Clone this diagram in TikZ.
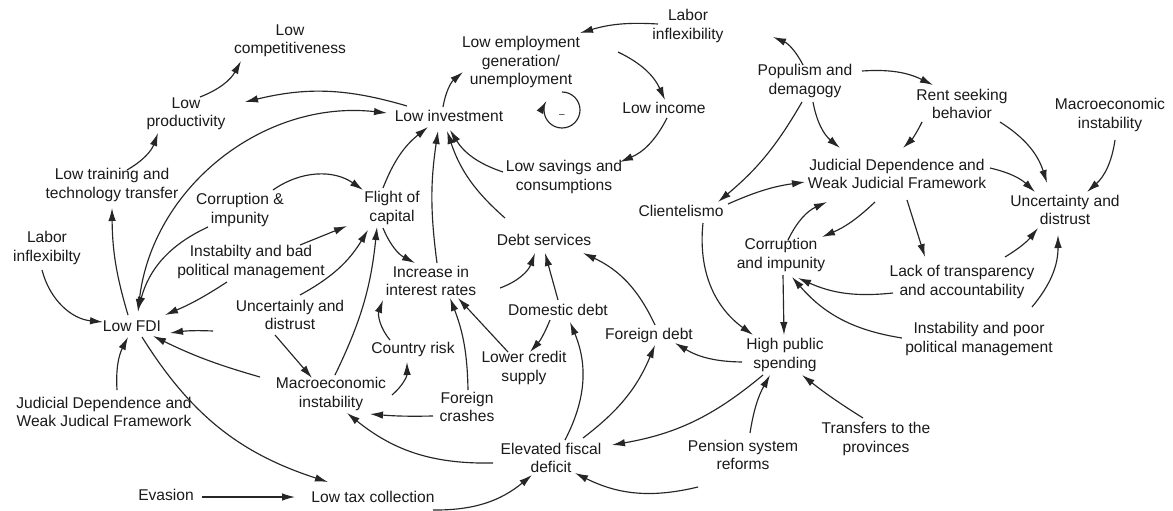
\documentclass[tikz,border=0pt]{standalone}
\usepackage{fontspec}
\setmainfont{Liberation Sans}
\usetikzlibrary{arrows.meta}
\definecolor{ln}{HTML}{262626}
\definecolor{txt}{HTML}{1A1A1A}
\begin{document}
\begin{tikzpicture}[x=1pt,y=1pt,
  lbl/.style={align=center, font=\fontsize{15.6}{18.5}\selectfont, text=txt, inner sep=0pt},
  link/.style={-{Latex[length=13pt,width=7.5pt]}, line width=1.15pt, draw=ln},
  both/.style={{Latex[length=13pt,width=7.5pt]}-{Latex[length=13pt,width=7.5pt]}, line width=1.15pt, draw=ln}]
\fill[white] (0,0) rectangle (1173,-511);
\useasboundingbox (0,0) rectangle (1173,-511);

% nodes
\node[lbl] (comp) at (290,-41) {Low\\competitiveness};
\node[lbl] (prod) at (186,-114) {Low\\productivity};
\node[lbl] (train) at (112,-185) {Low training and\\technology transfer};
\node[lbl] (laborL) at (47,-248) {Labor\\inflexibilty};
\node[lbl] (fdi) at (132,-326) {Low FDI};
\node[lbl] (judL) at (104,-412) {Judicial Dependence and\\Weak Judical Framework};
\node[lbl] (evasion) at (166,-495) {Evasion};
\node[lbl] (tax) at (373,-497) {Low tax collection};
\node[lbl] (corrL) at (240,-210) {Corruption \&\\impunity};
\node[lbl] (instL) at (251,-262) {Instabilty and bad\\political management};
\node[lbl] (uncL) at (290,-315) {Uncertainly and\\distrust};
\node[lbl] (macroM) at (331,-394) {Macroeconomic\\instability};
\node[lbl] (flight) at (392,-208) {Flight of\\capital};
\node[lbl] (inv) at (449,-116) {Low investment};
\node[lbl] (rates) at (431,-281) {Increase in\\interest rates};
\node[lbl] (crisk) at (413,-349) {Country risk};
\node[lbl] (crash) at (467,-407) {Foreign\\crashes};
\node[lbl] (ddebt) at (558,-310) {Domestic debt};
\node[lbl] (credit) at (524,-368) {Lower credit\\supply};
\node[lbl] (dserv) at (544,-240) {Debt services};
\node[lbl] (fdebt) at (649,-335) {Foreign debt};
\node[lbl] (deficit) at (551,-458) {Elevated fiscal\\deficit};
\node[lbl] (savings) at (564,-177) {Low savings and\\consumptions};
\node[lbl] (employ) at (521,-62) {Low employment\\generation/\\unemployment};
\node[lbl] (income) at (664,-108) {Low income};
\node[lbl] (laborT) at (688,-26) {Labor\\inflexibility};
\node[lbl] (populism) at (805,-81) {Populism and\\demagogy};
\node[lbl] (rent) at (962,-104) {Rent seeking\\behavior};
\node[lbl] (macroR) at (1110,-115) {Macroeconomic\\instability};
\node[lbl] (judR) at (897,-174) {Judicial Dependence and\\Weak Judicial Framework};
\node[lbl] (uncR) at (1065,-210) {Uncertainty and\\distrust};
\node[lbl] (client) at (681,-211) {Clientelismo};
\node[lbl] (corrR) at (781,-255) {Corruption\\and impunity};
\node[lbl] (lack) at (962,-282) {Lack of transparency\\and accountability};
\node[lbl] (instR) at (979,-339) {Instability and poor\\political management};
\node[lbl] (spend) at (785,-355) {High public\\spending};
\node[lbl] (transfer) at (876,-439) {Transfers to the\\provinces};
\node[lbl] (pension) at (743,-455) {Pension system\\reforms};
\node[lbl, font=\fontsize{10}{12}\selectfont] (loopmark) at (562,-116) {\textendash};

% left part
\draw[link] ([shift={(14,17)}]prod.center) to[bend right=20] ([shift={(-49,-20)}]comp.center);
\draw[link] ([shift={(15,15)}]train.center) to[bend right=20] ([shift={(-28,-19)}]prod.center);
\draw[link] ([shift={(-42,10)}]inv.center) to[bend right=15] ([shift={(59,12)}]prod.center);
\draw[both] ([shift={(6,14)}]fdi.center) to[bend left=45] ([shift={(-62,3)}]inv.center);
\draw[link] ([shift={(-32,-17)}]corrL.center) to[bend right=25] ([shift={(6,16)}]fdi.center);
\draw[link] ([shift={(-24,-20)}]instL.center) to[bend left=5] ([shift={(33,11)}]fdi.center);
\draw[link] ([shift={(-77,-16)}]uncL.center) to[bend right=5] ([shift={(38,-7)}]fdi.center);
\draw[link] ([shift={(-71,17)}]macroM.center) to[bend left=5] ([shift={(21,-10)}]fdi.center);
\draw[link] ([shift={(-5,-22)}]laborL.center) to[bend right=35] ([shift={(-29,4)}]fdi.center);
\draw[link] ([shift={(13,22)}]judL.center) to[bend left=15] ([shift={(-4,-11)}]fdi.center);
\draw[link] ([shift={(10,-11)}]fdi.center) to[bend right=20] ([shift={(-45,15)}]tax.center);
\draw[link] ([shift={(36,-2)}]evasion.center) -- ([shift={(-78,0)}]tax.center);
\draw[link] ([shift={(60,-13)}]tax.center) to[bend right=20] ([shift={(-19,-17)}]deficit.center);
\draw[link] ([shift={(-58,-5)}]deficit.center) to[bend left=20] ([shift={(16,-19)}]macroM.center);
\draw[link] ([shift={(-34,-9)}]crash.center) to[bend left=3] ([shift={(39,-20)}]macroM.center);
\draw[link] ([shift={(61,-1)}]macroM.center) to[bend right=25] ([shift={(-6,-13)}]crisk.center);
\draw[link] ([shift={(-23,9)}]crisk.center) to[bend left=30] ([shift={(-48,-19)}]rates.center);
\draw[link] ([shift={(1,17)}]crash.center) to[bend right=10] ([shift={(19,-17)}]rates.center);
\draw[link] ([shift={(-16,16)}]credit.center) -- ([shift={(27,-17)}]rates.center);
\draw[link] ([shift={(-8,-10)}]ddebt.center) to[bend left=10] ([shift={(6,16)}]credit.center);
\draw[link] ([shift={(14,18)}]deficit.center) to[bend right=25] ([shift={(12,-12)}]ddebt.center);
\draw[link] ([shift={(32,20)}]deficit.center) to[bend right=15] ([shift={(6,-10)}]fdebt.center);
\draw[link] ([shift={(-43,-7)}]spend.center) to[bend left=15] ([shift={(26,-8)}]fdebt.center);
\draw[link] ([shift={(-22,-20)}]spend.center) to[bend left=15] ([shift={(61,13)}]deficit.center);
\draw[link] ([shift={(7,22)}]pension.center) to[bend left=10] ([shift={(-15,-20)}]spend.center);
\draw[link] ([shift={(-13,21)}]transfer.center) to[bend left=3] ([shift={(17,-20)}]spend.center);
\draw[link] ([shift={(-45,-32)}]pension.center) to[bend left=20] ([shift={(24,-15)}]deficit.center);

% right part
\draw[link] ([shift={(22,-12)}]client.center) to[bend right=30] ([shift={(-32,20)}]spend.center);
\draw[link] ([shift={(2,-20)}]corrR.center) -- ([shift={(-1,20)}]spend.center);
\draw[link] ([shift={(-69,-11)}]lack.center) to[bend left=15] ([shift={(17,-23)}]corrR.center);
\draw[link] ([shift={(-77,1)}]instR.center) to[bend left=20] ([shift={(11,-22)}]corrR.center);
\draw[link] ([shift={(53,32)}]instR.center) to[bend right=20] ([shift={(-7,-25)}]uncR.center);
\draw[link] ([shift={(43,25)}]lack.center) to[bend right=10] ([shift={(-27,-18)}]uncR.center);
\draw[link] ([shift={(10,-26)}]judR.center) -- ([shift={(-37,25)}]lack.center);
\draw[link] ([shift={(-22,-28)}]judR.center) to[bend left=10] ([shift={(41,18)}]corrR.center);
\draw[link] ([shift={(7,15)}]corrR.center) to[bend left=20] ([shift={(-70,-28)}]judR.center);
\draw[link] ([shift={(47,7)}]client.center) to[bend left=8] ([shift={(-92,-8)}]judR.center);
\draw[link] ([shift={(-3,-21)}]populism.center) to[bend left=10] ([shift={(37,9)}]client.center);
\draw[link] ([shift={(8,-21)}]populism.center) to[bend right=20] ([shift={(-57,26)}]judR.center);
\draw[link] ([shift={(-2,16)}]populism.center) to[bend right=20] ([shift={(85,-11)}]laborT.center);
\draw[link] ([shift={(57,10)}]populism.center) to[bend left=15] ([shift={(-29,19)}]rent.center);
\draw[link] ([shift={(-40,-18)}]rent.center) to[bend left=10] ([shift={(6,26)}]judR.center);
\draw[link] ([shift={(38,-18)}]rent.center) to[bend left=20] ([shift={(-18,27)}]uncR.center);
\draw[link] ([shift={(93,6)}]judR.center) to[bend left=15] ([shift={(-30,18)}]uncR.center);
\draw[link] ([shift={(5,-25)}]macroR.center) to[bend left=20] ([shift={(22,18)}]uncR.center);

% top middle
\draw[link] ([shift={(-30,2)}]laborT.center) to[bend right=10] ([shift={(59,29)}]employ.center);
\draw[link] ([shift={(97,10)}]employ.center) to[bend left=20] ([shift={(1,8)}]income.center);
\draw[link] ([shift={(3,-10)}]income.center) to[bend left=20] ([shift={(56,15)}]savings.center);
\draw[link] ([shift={(-6,9)}]inv.center) to[bend left=20] ([shift={(-58,-10)}]employ.center);
\draw[link] ([shift={(41,-30)}]employ.center) arc[start angle=90, end angle=-210, radius=18];
\draw[link] ([shift={(-61,5)}]savings.center) to[bend left=20] ([shift={(1,-14)}]inv.center);
\draw[link] ([shift={(-39,22)}]dserv.center) to[bend left=15] ([shift={(-2,-15)}]inv.center);
\draw[link] ([shift={(6,18)}]rates.center) to[bend left=8] ([shift={(-11,-15)}]inv.center);
\draw[link] ([shift={(-9,20)}]flight.center) to[bend left=15] ([shift={(-21,-11)}]inv.center);
\draw[link] ([shift={(-9,-20)}]flight.center) to[bend right=20] ([shift={(-16,18)}]rates.center);
\draw[link] ([shift={(69,-7)}]rates.center) to[bend right=25] ([shift={(-9,-13)}]dserv.center);
\draw[link] ([shift={(0,10)}]ddebt.center) -- ([shift={(1,-13)}]dserv.center);
\draw[link] ([shift={(6,10)}]fdebt.center) to[bend right=20] ([shift={(39,-13)}]dserv.center);
\draw[link] ([shift={(10,20)}]uncL.center) to[bend right=15] ([shift={(-24,-22)}]flight.center);
\draw[link] ([shift={(-15,-20)}]uncL.center) -- ([shift={(-19,16)}]macroM.center);
\draw[link] ([shift={(49,17)}]instL.center) -- ([shift={(-45,-18)}]flight.center);
\draw[link] ([shift={(33,20)}]corrL.center) to[bend left=35] ([shift={(-29,18)}]flight.center);
\draw[link] ([shift={(4,19)}]macroM.center) to[bend right=10] ([shift={(-15,-19)}]flight.center);
\draw[link] ([shift={(-4,11)}]fdi.center) to[bend left=8] ([shift={(0,-23)}]train.center);
\end{tikzpicture}
\end{document}
